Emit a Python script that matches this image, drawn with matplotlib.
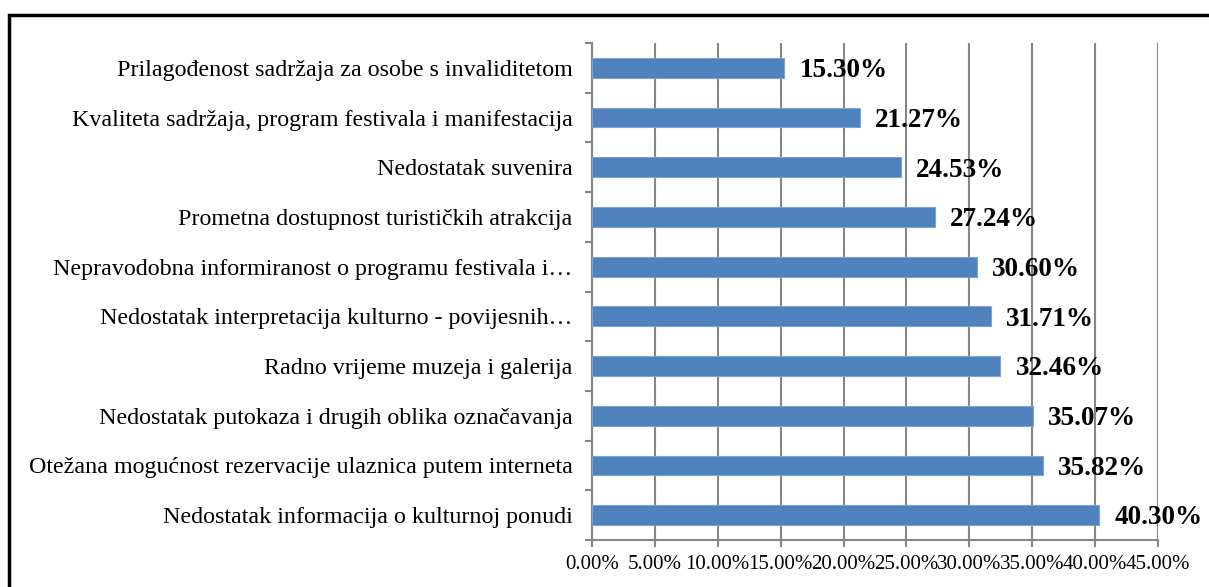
import matplotlib.pyplot as plt
from matplotlib.patches import Rectangle
from matplotlib.ticker import FixedLocator, PercentFormatter

# bottom to top, as drawn
categories = [
    "Nedostatak informacija o kulturnoj ponudi",
    "Otežana mogućnost rezervacije ulaznica putem interneta",
    "Nedostatak putokaza i drugih oblika označavanja",
    "Radno vrijeme muzeja i galerija",
    "Nedostatak interpretacija kulturno - povijesnih…",
    "Nepravodobna informiranost o programu festivala i…",
    "Prometna dostupnost turističkih atrakcija",
    "Nedostatak suvenira",
    "Kvaliteta sadržaja, program festivala i manifestacija",
    "Prilagođenost sadržaja za osobe s invaliditetom",
]
values = [40.30, 35.82, 35.07, 32.46, 31.71, 30.60, 27.24, 24.53, 21.27, 15.30]
xticks = [0, 5, 10, 15, 20, 25, 30, 35, 40, 45]

plt.rcParams['font.family'] = ['Liberation Serif', 'DejaVu Serif']
grey = '#868686'

fig = plt.figure(figsize=(12.09, 5.87), dpi=100)
ax = fig.add_axes([592 / 1209, 1 - 540 / 587, 566 / 1209, 497 / 587])

pos = list(range(len(categories)))
ax.barh(pos, values, height=0.4, color='#4F81BD', edgecolor='#7FA3D0', linewidth=0.8, zorder=3)

for y, v in zip(pos, values):
    ax.annotate(f"{v:.2f}%", (v, y), xytext=(11, -2), textcoords='offset points',
                va='center', ha='left', fontsize=19.5, fontweight='bold', zorder=4)

ax.set_xlim(0, 45)
ax.set_ylim(-0.5, len(categories) - 0.5)
ax.set_xticks(xticks)
ax.xaxis.set_major_formatter(PercentFormatter(decimals=2))
ax.tick_params(axis='x', length=5, width=1.5, color=grey, labelsize=15, pad=6)
ax.grid(axis='x', color=grey, linewidth=1.5, zorder=0)

ax.set_yticks(pos)
ax.set_yticklabels(categories, fontsize=17.3)
ax.tick_params(axis='y', length=0, pad=14)
ax.yaxis.set_minor_locator(FixedLocator([p - 0.5 for p in pos] + [len(pos) - 0.5]))
ax.tick_params(axis='y', which='minor', length=5, width=1.5, color=grey)

for s in ['top', 'right']:
    ax.spines[s].set_visible(False)
for s in ['left', 'bottom']:
    ax.spines[s].set_color(grey)
    ax.spines[s].set_linewidth(1.5)

# outer black frame, cut off on the right and bottom
frame = Rectangle((9 / 1209, -0.2), 1.2, 1.2 - 15 / 587, transform=fig.transFigure,
                  fill=False, edgecolor='black', linewidth=2.5, clip_on=False)
fig.patches.append(frame)

fig.savefig('out.png', dpi=100)
